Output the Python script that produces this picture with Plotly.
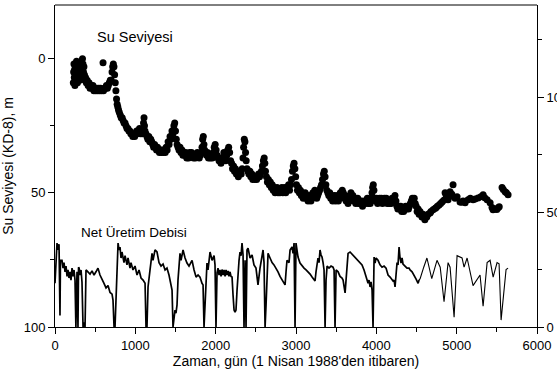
import plotly.graph_objects as go

# Su seviyesi (KD-8), m  -- gün (1 Nisan 1988'den itibaren)
wl_day = [
    228, 232, 236, 240, 244, 248, 252, 256, 260, 264, 268, 272, 276, 280, 285, 290, 295, 300,
    306, 312, 318, 324, 330, 336, 342, 348, 354, 360, 366, 372, 380, 390,
    400, 412, 424, 436, 448, 460, 472, 484, 496, 508, 520, 532, 544, 556, 568, 580, 598, 604,
    616, 628, 640, 652, 664, 676, 688, 700, 710, 718, 726, 734, 742, 750, 758, 766, 774, 782,
    790, 800, 812, 824, 836, 848, 860, 872, 884, 896, 908, 920, 932, 944, 956, 968, 980, 992,
    1004, 1016, 1028, 1040, 1052, 1064, 1076, 1088, 1096, 1102, 1108, 1114, 1120, 1132, 1144,
    1156, 1168, 1180, 1192, 1204, 1216, 1228, 1240, 1252, 1264, 1276, 1288, 1300, 1312, 1324,
    1336, 1348, 1360, 1372, 1384, 1396, 1408, 1420, 1432, 1444, 1456, 1468, 1480, 1490, 1500,
    1510, 1520, 1532, 1544, 1556, 1568, 1580, 1592, 1604, 1616, 1628, 1640, 1652, 1664, 1676,
    1688, 1700, 1712, 1724, 1736, 1748, 1760, 1772, 1784, 1796, 1808, 1820, 1830, 1838, 1846,
    1854, 1862, 1874, 1886, 1898, 1910, 1922, 1934, 1946, 1958, 1970, 1982, 1994, 2006, 2018,
    2030, 2042, 2054, 2066, 2078, 2090, 2102, 2114, 2126, 2138, 2150, 2162, 2174, 2186, 2198,
    2210, 2222, 2234, 2246, 2258, 2270, 2282, 2294, 2306, 2318, 2330, 2340, 2348, 2356, 2364,
    2372, 2380, 2390, 2402, 2414, 2426, 2438, 2450, 2462, 2474, 2486, 2498, 2510, 2522, 2534,
    2546, 2558, 2570, 2582, 2594, 2604, 2612, 2620, 2632, 2644, 2656, 2668, 2680, 2692, 2704,
    2716, 2728, 2740, 2752, 2764, 2776, 2788, 2800, 2812, 2824, 2836, 2848, 2860, 2872, 2884,
    2896, 2908, 2920, 2932, 2944, 2956, 2966, 2976, 2986, 2996, 3006, 3018, 3030, 3042, 3054,
    3066, 3078, 3090, 3102, 3114, 3126, 3138, 3150, 3162, 3174, 3186, 3198, 3210, 3222, 3234,
    3246, 3258, 3270, 3282, 3294, 3306, 3318, 3330, 3342, 3352, 3362, 3372, 3384, 3396, 3408,
    3420, 3432, 3444, 3456, 3468, 3480, 3492, 3504, 3516, 3528, 3540, 3552, 3564, 3576, 3588,
    3600, 3612, 3624, 3636, 3648, 3660, 3672, 3684, 3696, 3708, 3720, 3732, 3744, 3756, 3768,
    3780, 3792, 3804, 3816, 3828, 3840, 3852, 3864, 3876, 3888, 3900, 3912, 3924, 3936, 3946,
    3954, 3962, 3970, 3980, 3992, 4004, 4016, 4028, 4040, 4052, 4064, 4076, 4088, 4100, 4112,
    4124, 4136, 4148, 4160, 4172, 4184, 4196, 4208, 4220, 4232, 4244, 4256, 4268, 4280, 4292,
    4304, 4316, 4328, 4340, 4352, 4364, 4376, 4388, 4400, 4412, 4424, 4436, 4448, 4460, 4472,
    4484, 4496, 4508, 4520, 4532, 4544, 4556, 4568, 4580, 4592, 4604, 4616, 4628, 4644,
    4669, 4680, 4706, 4730, 4743, 4760, 4781, 4800, 4818, 4840, 4856, 4870, 4893, 4905, 4918,
    4940, 4955, 4980, 5005, 5042, 5060, 5080, 5105, 5142, 5170, 5204, 5230, 5266, 5300, 5329,
    5350, 5379, 5416, 5440, 5453, 5478, 5500, 5516, 5530, 5565, 5580, 5603, 5620, 5640,
]
wl_m = [
    9, 5, 2, 7, 4, 10, 6, 3, 8, 5, 1, 7, 4, 9, 6, 3, 7, 5,
    8, 4, 2, 6, 1, 3, 0, 2, 5, 3, 6, 8, 7, 9,
    8, 10, 9, 11, 10, 11, 10, 12, 11, 12, 11, 12, 11, 12, 11, 12, 1.5, 12,
    11, 11, 10, 11, 10, 9, 8, 8, 5, 3, 2, 3, 6, 9, 12, 15, 17, 18,
    19, 20, 21, 22, 22, 23, 24, 24, 25, 26, 26, 27, 27, 28, 28, 29, 28, 29,
    28, 27, 28, 27, 26, 28, 27, 28, 26, 24, 22, 25, 27, 28, 29,
    30, 29, 31, 30, 31, 32, 33, 32, 33, 34, 33, 34, 35, 34, 35,
    34, 35, 34, 35, 33, 34, 31, 32, 29, 30, 27, 28, 25, 24, 27,
    30, 32, 33, 34, 33, 35, 34, 36, 35, 36, 35, 37, 36, 37, 35,
    36, 35, 36, 37, 36, 37, 36, 35, 36, 37, 36, 35, 33, 30, 29,
    32, 34, 35, 36, 35, 37, 36, 37, 36, 37, 35, 33, 32, 34, 36,
    37, 38, 37, 39, 38, 37, 35, 37, 38, 36, 34, 33, 35, 38, 39,
    41, 40, 42, 41, 43, 42, 44, 43, 42, 43, 41, 37, 33, 30, 31,
    35, 38, 41, 42, 43, 42, 44, 43, 45, 44, 45, 44, 45, 44, 43,
    44, 43, 42, 40, 38, 37, 39, 42, 44, 46, 45, 47, 46, 48, 47,
    49, 48, 50, 49, 48, 50, 49, 50, 49, 48, 50, 49, 48, 50, 49,
    48, 47, 49, 47, 45, 42, 40, 39, 41, 44, 47, 49, 48, 50, 49,
    51, 50, 52, 51, 50, 52, 51, 53, 52, 51, 53, 52, 50, 51, 49,
    50, 52, 51, 50, 49, 48, 47, 45, 43, 42, 44, 47, 49, 50, 51,
    50, 52, 51, 53, 52, 51, 53, 52, 51, 53, 52, 50, 51, 49, 50,
    52, 51, 53, 52, 54, 53, 51, 50, 52, 51, 53, 52, 54, 53, 52,
    54, 53, 54, 53, 55, 54, 53, 54, 53, 52, 54, 53, 54, 52, 50,
    48, 47, 49, 52, 53, 52, 54, 53, 52, 53, 52, 54, 53, 52, 53,
    52, 54, 53, 54, 53, 54, 52, 53, 52, 51, 53, 55, 56, 55, 56,
    55, 57, 56, 57, 56, 55, 56, 55, 56, 55, 54, 53, 52, 53, 52,
    54, 55, 57, 56, 58, 57, 58, 59, 58, 59, 60, 59, 59, 58,
    57.5, 57, 56.3, 55.8, 55.6, 55, 54.5, 54, 53.4, 52.8, 50, 51, 52.6, 51.5, 49.6,
    50.5, 47, 52, 51.5, 53.4, 53.5, 53, 53.7, 52.6, 52, 52.6, 52.3, 51.9, 51.5, 50.7,
    51.8, 52.6, 53.7, 55.5, 56.3, 56, 56.2, 55.6, 55.2, 48, 48.8, 49.6, 50, 50.7,
]

# Net üretim debisi, günlük kayıt dönemi (gün 0 - 4532)
q_day = [
    0, 12, 25, 37, 50, 62, 68, 87, 100, 112, 125, 137, 150, 162, 174, 187, 199, 212, 224, 237,
    249, 260, 268, 274, 286, 293, 300, 311, 324, 336, 349, 361, 374, 386, 411, 436, 461, 486,
    510, 535, 560, 585, 610, 635, 660, 685, 710, 722, 735, 747, 760, 772, 785, 797, 809, 822,
    834, 859, 872, 896, 909, 934, 946, 971, 996, 1021, 1046, 1071, 1096, 1121, 1133, 1145, 1158,
    1183, 1208, 1220, 1245, 1270, 1295, 1320, 1345, 1370, 1394, 1419, 1444, 1457, 1469, 1482,
    1494, 1506, 1519, 1531, 1556, 1569, 1594, 1619, 1643, 1668, 1706, 1731, 1756, 1781, 1805,
    1830, 1843, 1855, 1868, 1892, 1905, 1930, 1955, 1980, 1992, 2004, 2017, 2029, 2042, 2054,
    2067, 2079, 2092, 2104, 2117, 2129, 2141, 2154, 2166, 2179, 2191, 2204, 2216, 2229, 2241,
    2253, 2266, 2278, 2291, 2303, 2316, 2328, 2341, 2353, 2366, 2378, 2390, 2403, 2428, 2453,
    2477, 2502, 2515, 2527, 2552, 2577, 2590, 2602, 2615, 2627, 2640, 2652, 2677, 2702, 2726,
    2751, 2776, 2801, 2826, 2851, 2864, 2876, 2888, 2913, 2926, 2951, 2963, 2976, 2988, 3000,
    3013, 3025, 3050, 3075, 3100, 3125, 3150, 3175, 3200, 3225, 3237, 3249, 3262, 3274, 3287,
    3299, 3312, 3324, 3337, 3349, 3362, 3374, 3387, 3411, 3436, 3461, 3474, 3486, 3499, 3524,
    3548, 3573, 3586, 3598, 3611, 3623, 3636, 3648, 3673, 3698, 3722, 3747, 3772, 3797, 3822,
    3847, 3872, 3884, 3897, 3909, 3922, 3934, 3947, 3959, 3972, 3984, 3997, 4021, 4046, 4071,
    4096, 4121, 4133, 4146, 4171, 4196, 4208, 4221, 4233, 4245, 4258, 4270, 4283, 4295, 4308,
    4320, 4332, 4357, 4382, 4407, 4420, 4445, 4470, 4495, 4520, 4532,
]
q_val = [
    19, 31, 36.5, 33.5, 36, 5, 29, 29, 25.6, 28, 24, 26.5, 22, 24.8, 21.3, 24, 20.4, 25.6, 22, 24.8,
    20.4, 0, 22, 24, 0, 26, 25.6, 22.6, 24.8, 19.6, 0, 2, 0, 24.8, 24, 23, 24.4, 22.6,
    24, 25.6, 22.6, 20.4, 19, 17, 18, 15, 14.3, 11.7, 0, 0, 16, 22.6, 36.5, 33.5, 34.8, 30,
    32.6, 28, 31, 27, 30, 25.6, 28, 24.8, 26.5, 22.6, 24.8, 21.3, 20.4, 19, 0, 0, 17.4,
    24.8, 32, 29, 33.5, 32.6, 28, 26.5, 27.4, 24.8, 25.6, 22.6, 19, 16, 0, 4,
    7.4, 6, 9.6, 20.4, 32, 29, 33.5, 30, 27.8, 26.5, 29, 24.8, 21.7, 22.6, 21.7,
    19, 18.3, 0, 11.7, 27.8, 24.8, 32.6, 29, 31, 27, 0, 23.5, 25.6, 22.6, 24.8,
    22, 25, 22.6, 24.8, 22, 24.8, 22.6, 24.4, 22, 24, 22, 21.7, 14, 7.4, 6.5,
    7.4, 16, 24.8, 29, 32.6, 31, 36.5, 31.3, 0, 29, 0, 33.5, 34.3, 30, 31.3,
    27, 25.6, 21.3, 18.3, 25.6, 30, 33.5, 28, 0, 9.6, 27.8, 32, 30, 28, 27,
    25.6, 24, 22, 20.4, 18.7, 18.3, 24, 29, 28, 33.5, 34.8, 32, 36.5, 0, 36.5,
    33.5, 30.4, 27.8, 26.5, 25.6, 24.8, 24, 23, 21.7, 20.4, 20, 24, 27, 30, 28,
    33.5, 31.3, 30.4, 28, 24.8, 0, 20.4, 26.5, 25.6, 26.5, 26, 24.8, 0, 24.8, 24,
    22, 21.3, 20.4, 17.8, 14.8, 20.4, 28, 32, 32.6, 31.7, 30.4, 29.6, 28.7, 27.8, 27,
    24.8, 22, 20.4, 19, 20.4, 17.4, 19.6, 16, 0, 30.4, 27.8, 30, 29, 27, 26,
    26.5, 25.6, 24, 22.6, 21.7, 20.8, 20, 20.4, 17.4, 22.6, 28, 27, 34.8, 30, 27.8,
    30, 27.4, 26.5, 25.6, 25.6, 24.8, 24, 22, 20.8, 19, 20.4,
]

# Net üretim debisi, seyrek ölçüm dönemi (gün 4532 sonrası)
q_day_sparse = [
    4532, 4545, 4590, 4630, 4690, 4755, 4795, 4843, 4893, 4918, 4968, 5005, 5067, 5092, 5130,
    5204, 5291, 5329, 5379, 5416, 5454, 5503, 5528, 5553, 5615, 5640,
]
q_val_sparse = [
    20.4, 21, 26, 30, 21, 29, 26, 11, 28, 26, 4.3, 31, 30, 26, 30,
    18, 22.6, 9, 28, 29, 21.7, 28, 27.5, 3, 25, 25.6,
]

x_ticks = [0, 1000, 2000, 3000, 4000, 5000, 6000]
left_ticks = [0, 50, 100]
right_ticks = [0, 50, 100]

FONT = "Liberation Sans, Arial, sans-serif"

fig = go.Figure()

fig.add_trace(go.Scatter(
    x=q_day, y=q_val, mode="lines", yaxis="y2",
    line=dict(color="black", width=1.7), showlegend=False,
))
fig.add_trace(go.Scatter(
    x=q_day_sparse, y=q_val_sparse, mode="lines", yaxis="y2",
    line=dict(color="black", width=1.1), showlegend=False,
))
fig.add_trace(go.Scatter(
    x=wl_day, y=wl_m, mode="markers", yaxis="y",
    marker=dict(color="black", size=7, line=dict(width=0)), showlegend=False,
))

fig.add_annotation(x=1000, y=-8.2, xref="x", yref="y", text="Su Seviyesi",
                   showarrow=False, font=dict(family=FONT, size=14.5, color="black"))
fig.add_annotation(x=980, y=64.6, xref="x", yref="y", text="Net Üretim Debisi",
                   showarrow=False, font=dict(family=FONT, size=13.5, color="black"))

axis_common = dict(
    showgrid=False, zeroline=False, showline=True, linecolor="black", linewidth=1,
    ticks="outside", tickcolor="black", tickwidth=1, ticklen=6, automargin=False,
    tickfont=dict(family=FONT, size=13, color="black"),
)

fig.update_layout(
    width=557, height=378,
    margin=dict(l=55, r=20, t=5, b=51),
    paper_bgcolor="white", plot_bgcolor="white",
    font=dict(family=FONT, size=13, color="black"),
    xaxis=dict(
        range=[0, 6000], tickvals=x_ticks, mirror=False,
        minor=dict(dtick=500, tick0=0, ticks="outside", ticklen=4, tickcolor="black"),
        title=dict(text="Zaman, gün (1 Nisan 1988'den itibaren)",
                   font=dict(family=FONT, size=14), standoff=3),
        **axis_common,
    ),
    yaxis=dict(
        range=[100, -20], tickvals=left_ticks,
        minor=dict(tickvals=[25, 75], ticks="outside", ticklen=4, tickcolor="black"),
        title=dict(text="Su Seviyesi (KD-8), m", font=dict(family=FONT, size=14), standoff=6),
        **axis_common,
    ),
    yaxis2=dict(
        range=[0, 140], tickvals=right_ticks, overlaying="y", side="right",
        minor=dict(tickvals=[25, 75, 125], ticks="outside", ticklen=4, tickcolor="black"),
        **axis_common,
    ),
    shapes=[dict(type="line", xref="paper", yref="paper", x0=0, x1=1, y0=1, y1=1,
                 line=dict(color="black", width=1))],
)

fig.write_html("out.html")
